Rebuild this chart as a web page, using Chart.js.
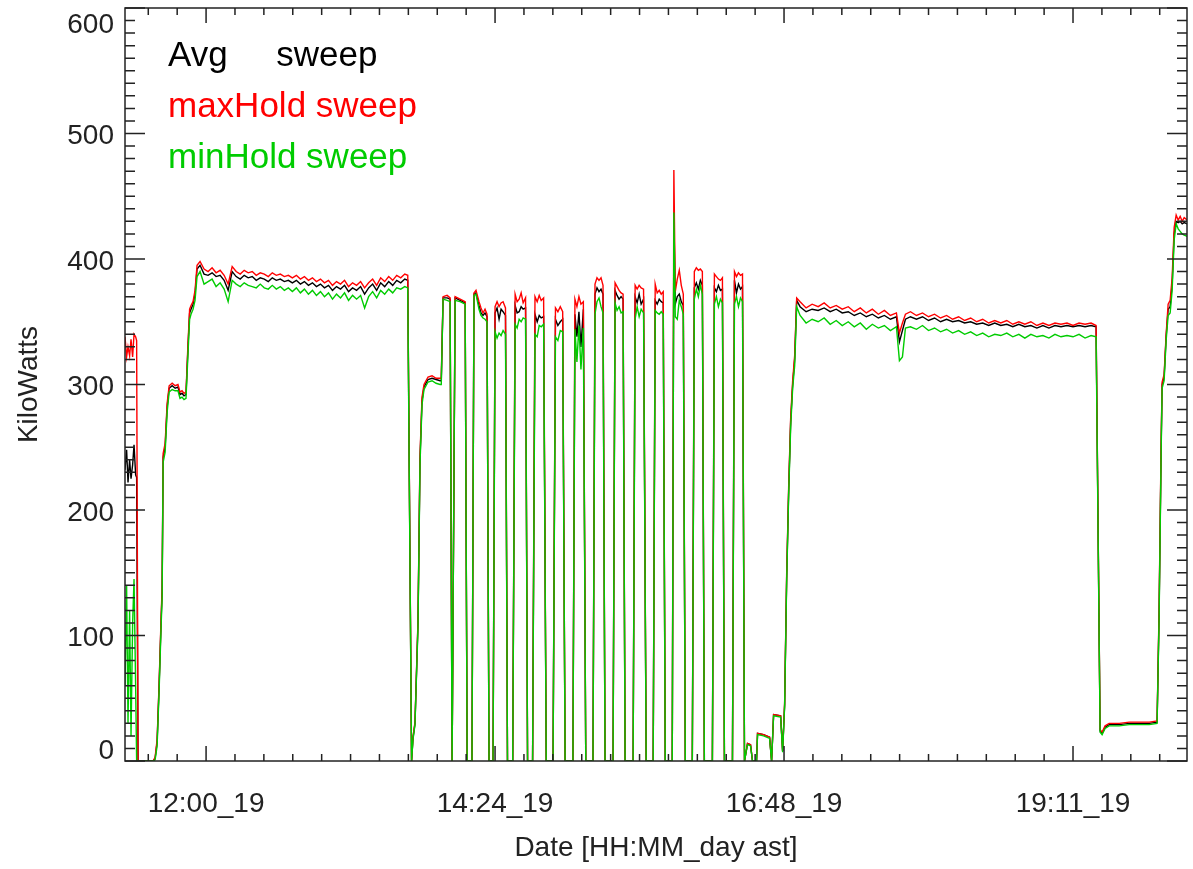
<!DOCTYPE html>
<html>
<head>
<meta charset="utf-8">
<title>KiloWatts sweep</title>
<script src="https://cdn.jsdelivr.net/npm/chart.js@4.4.0/dist/chart.umd.min.js"></script>
<style>
  html, body { margin: 0; padding: 0; background: #fff; }
  canvas { display: block; }
</style>
</head>
<body>
<canvas id="kw" width="1193" height="869"></canvas>
<script>
// time in minutes after midnight of day 19 (ast)
const timeMin = [
  679.6, 680.4, 681.1, 681.9, 682.6, 683.4, 684.1, 684.9, 685.4, 686.1,
  693.6, 694.6, 695.6, 696.6, 697.6, 698.1, 698.6, 699.6, 700.6, 701.6, 703.1, 704.6,
  706.0, 707.0, 708.0, 709.0, 710.0, 711.0, 711.8, 712.5, 713.5, 714.5, 715.5,
  717, 719, 721, 723, 725, 727, 729, 731, 733, 735,
  737, 739, 741, 743, 745, 747, 749, 751, 753, 755,
  757, 759, 761, 763, 765, 767, 769, 771, 773, 775,
  777, 779, 781, 783, 785, 787, 789, 791, 793, 795,
  797, 799, 801, 803, 805, 807, 809, 811, 813, 815,
  817, 819, 820.5,
  822.4, 823.1, 824.1, 825.6, 826.6, 827.6, 828.6, 830.6, 832.6, 834.6, 836.6, 837.2,
  838.1, 840.1, 841.6, 842.6,
  844.1, 846.6, 849.1, 850.1, 852.5,
  853.5, 854.5, 856, 857, 858, 859, 860, 861, 863,
  864, 865, 866, 867, 868, 869.2, 870.2, 872.8,
  874, 875, 876, 877, 878, 879.2, 880.2, 882.7,
  883.9, 885, 886, 887, 888.2, 889.5, 892.9,
  894.1, 895.3, 896.5, 897.7, 898.9, 902.8,
  903.8, 904.8, 905.8, 906.8, 908, 909.2, 912.8,
  913.8, 914.8, 915.8, 916.8, 917.8, 918.8, 922.8,
  923.8, 924.8, 925.8, 926.8, 927.8, 928.8, 932.8,
  933.8, 934.8, 935.8, 936.8, 938, 939.3, 942.8,
  943.8, 944.8, 945.8, 946.8, 947.8, 948.8, 952.3,
  953.1, 953.8, 954.8, 955.8, 956.8, 957.8, 958.8, 962.3,
  963.3, 964.3, 965.3, 966.3, 967.3, 968.3, 972.3,
  973.3, 974.3, 975.3, 976.3, 977.3, 978.3, 982.3,
  983.3, 984.3, 985.3, 986.3, 987.3, 988.3,
  989.8, 991.3, 992.3, 994.3, 994.8, 997.8, 1000.8, 1001.8, 1002.8,
  1006.3, 1007.3, 1008.3, 1009.3, 1010.3, 1011.3, 1012.3, 1013.3, 1014.3,
  1016, 1019, 1022, 1025, 1028, 1031, 1034, 1037, 1040, 1043,
  1046, 1049, 1052, 1055, 1058, 1061, 1064, 1065.5, 1067, 1068.5,
  1071, 1074, 1077, 1080, 1083, 1086, 1089, 1092, 1095, 1098,
  1101, 1104, 1107, 1110, 1113, 1116, 1119, 1122, 1125, 1128,
  1131, 1134, 1137, 1140, 1143, 1146, 1149, 1152, 1155, 1158,
  1161, 1163.5,
  1165.5, 1166.5, 1168, 1170, 1175, 1180, 1185, 1190, 1193.9,
  1194.9, 1195.9, 1196.4, 1197.4, 1198.4, 1199.4, 1200.4, 1201.4,
  1202.4, 1203.4, 1204.4, 1205.4, 1206.4, 1207.4, 1208.9
];

const avgKW = [
  232, 248, 222, 240, 225, 236, 252, 228, 226, 0,
  0, 2, 15, 60, 112, 135, 242, 250, 282, 297, 299, 297,
  298, 292, 293, 291, 292, 330, 357, 360, 364, 372, 392,
  395, 388, 387, 389, 386, 387, 383, 375, 390, 386,
  384, 387, 385, 386, 383, 385, 384, 382, 385, 383,
  384, 382, 383, 381, 383, 380, 382, 379, 381, 378,
  380, 377, 379, 375, 378, 376, 379, 374, 377, 375,
  378, 372, 377, 380, 375, 381, 378, 382, 379, 383,
  381, 384, 383,
  0, 18, 30, 110, 240, 287, 298, 304, 305, 304, 303, 303,
  369, 369, 368, 0,
  369, 367, 365, 0, 0,
  372, 373, 363, 357, 355, 357, 354, 0, 0,
  357, 361, 352, 360, 358, 355, 0, 0,
  363, 357, 358, 362, 360, 361, 0, 0,
  356, 350, 355, 353, 354, 0, 0,
  352, 347, 350, 352, 0, 0,
  356, 338, 358, 330, 360, 0, 0,
  372, 377, 374, 376, 372, 0, 0,
  375, 371, 368, 370, 368, 0, 0,
  370, 365, 372, 364, 368, 0, 0,
  367, 364, 368, 366, 365, 0, 0,
  437, 364, 370, 372, 366, 363, 0, 0,
  377, 381, 376, 383, 379, 0, 0,
  377, 374, 379, 375, 376, 0, 0,
  383, 373, 380, 376, 378, 0,
  14, 13, 0, 0, 22, 21, 19, 0, 37,
  36, 8, 45, 145, 215, 270, 300, 320, 367,
  362, 358, 360, 359, 361, 358, 360, 357, 358, 355,
  357, 354, 356, 353, 355, 352, 354, 334, 343, 352,
  354, 352, 354, 351, 353, 350, 352, 350, 351, 349,
  350, 348, 349, 347, 349, 347, 348, 346, 348, 346,
  347, 345, 347, 345, 347, 346, 347, 346, 347, 346,
  347, 346,
  24, 22, 27, 29, 29, 30, 30, 30, 31,
  118, 248, 300, 306, 338, 360, 362, 380,
  420, 430, 429, 430, 428, 429, 428
];

const maxKW = [
  338, 322, 330, 323, 336, 322, 340, 338, 335, 0,
  0, 3, 17, 62, 115, 138, 245, 253, 285, 299, 301, 299,
  300, 294, 295, 293, 294, 333, 360, 363, 366, 375, 395,
  398, 392, 390, 393, 389, 391, 387, 380, 394, 390,
  388, 391, 389, 390, 387, 389, 388, 386, 389, 387,
  388, 386, 387, 385, 387, 384, 386, 383, 385, 382,
  384, 381, 383, 379, 382, 380, 383, 378, 381, 379,
  382, 377, 381, 384, 379, 385, 382, 386, 383, 387,
  385, 388, 387,
  0, 19, 31, 112, 243, 290, 300, 306, 307, 305, 305, 305,
  370, 371, 369, 0,
  370, 368, 366, 0, 0,
  373, 375, 366, 361, 357, 360, 356, 0, 0,
  362, 366, 362, 365, 366, 361, 0, 0,
  372, 366, 368, 373, 365, 369, 0, 0,
  370, 366, 371, 367, 369, 0, 0,
  361, 358, 362, 358, 0, 0,
  368, 362, 370, 364, 366, 0, 0,
  380, 385, 383, 385, 379, 0, 0,
  381, 378, 375, 373, 372, 0, 0,
  379, 376, 379, 377, 376, 0, 0,
  380, 373, 375, 372, 374, 0, 0,
  471, 374, 384, 391, 379, 372, 0, 0,
  390, 393, 391, 392, 390, 0, 0,
  388, 386, 384, 383, 385, 0, 0,
  390, 386, 389, 387, 388, 0,
  14, 13, 0, 0, 22, 21, 19, 0, 37,
  36, 8, 46, 148, 218, 273, 303, 323, 369,
  366, 361, 364, 362, 365, 361, 363, 360, 362, 358,
  361, 357, 360, 356, 359, 355, 357, 341, 349, 356,
  358, 355, 357, 354, 356, 353, 355, 352, 354, 351,
  353, 350, 352, 349, 351, 349, 351, 348, 350, 348,
  350, 347, 349, 347, 349, 348, 349, 347, 349, 348,
  349, 347,
  25, 23, 28, 30, 30, 31, 31, 31, 32,
  122, 252, 302, 308, 340, 364, 367, 385,
  425, 435, 431, 434, 430, 433, 431
];

const minKW = [
  60, 140, 30, 120, 20, 110, 145, 60, 0, 0,
  0, 1, 12, 56, 108, 130, 238, 246, 278, 294, 296, 295,
  295, 289, 290, 288, 289, 325, 352, 356, 360, 367, 386,
  390, 380, 382, 384, 378, 381, 376, 366, 383, 380,
  378, 381, 379, 378, 377, 380, 377, 376, 379, 376,
  378, 375, 377, 374, 377, 373, 376, 372, 375, 371,
  374, 370, 373, 368, 372, 369, 373, 367, 371, 368,
  371, 361, 370, 374, 369, 375, 372, 376, 373, 377,
  376, 378, 377,
  0, 17, 29, 107, 236, 284, 296, 302, 303, 301, 300, 300,
  368, 367, 366, 0,
  367, 366, 364, 0, 0,
  371, 372, 360, 355, 353, 352, 350, 0, 0,
  342, 337, 341, 339, 343, 340, 0, 0,
  348, 345, 352, 350, 353, 352, 0, 0,
  340, 338, 347, 346, 348, 0, 0,
  338, 335, 343, 342, 0, 0,
  344, 318, 347, 312, 345, 0, 0,
  356, 366, 369, 362, 357, 0, 0,
  365, 359, 362, 357, 358, 0, 0,
  352, 362, 354, 360, 357, 0, 0,
  359, 357, 356, 358, 356, 0, 0,
  437, 354, 352, 367, 362, 356, 0, 0,
  368, 376, 370, 379, 372, 0, 0,
  364, 370, 362, 368, 365, 0, 0,
  364, 370, 362, 369, 366, 0,
  13, 12, 0, 0, 21, 20, 18, 0, 36,
  35, 7, 44, 142, 212, 266, 297, 315, 362,
  355, 349, 352, 350, 353, 348, 351, 347, 350, 346,
  349, 344, 348, 345, 347, 343, 346, 319, 322, 345,
  346, 344, 347, 343, 345, 342, 344, 341, 343, 340,
  342, 339, 341, 338, 340, 339, 341, 338, 340, 337,
  340, 338, 339, 337, 340, 338, 339, 338, 340, 337,
  339, 338,
  23, 21, 26, 28, 28, 29, 29, 29, 30,
  114, 244, 297, 303, 335, 355, 357, 375,
  415, 428, 424, 422, 420, 419, 418
];

const seriesLabels = ['Avg     sweep', 'maxHold sweep', 'minHold sweep'];
const seriesColors = ['#000000', '#ff0000', '#00cc00'];

const xTickValues = [720, 864, 1008, 1152];
const xTickLabels = ['12:00_19', '14:24_19', '16:48_19', '19:11_19'];
const yTickValues = [0, 100, 200, 300, 400, 500, 600];

if (new Set([timeMin.length, avgKW.length, maxKW.length, minKW.length]).size !== 1) {
  console.error('series length mismatch', timeMin.length, avgKW.length, maxKW.length, minKW.length);
}

const FONT = '"Liberation Sans", Arial, Helvetica, sans-serif';
Chart.defaults.font.family = FONT;
Chart.defaults.color = '#222';

const toPoints = vals => timeMin.map((t, i) => ({ x: t, y: vals[i] }));

// IDL-like box: inward ticks on all four sides, y labels kept inside the axis span, text legend
const idlFrame = {
  id: 'idlFrame',
  afterDraw(chart) {
    const { ctx, chartArea: a, scales: { x, y } } = chart;
    ctx.save();
    ctx.strokeStyle = '#222';
    ctx.lineWidth = 1.5;
    ctx.strokeRect(a.left, a.top, a.right - a.left, a.bottom - a.top);

    ctx.beginPath();
    for (let v = y.min; v <= y.max; v += 10) {
      const py = y.getPixelForValue(v);
      const len = v % 100 === 0 ? 20 : 10;
      ctx.moveTo(a.left, py); ctx.lineTo(a.left + len, py);
      ctx.moveTo(a.right, py); ctx.lineTo(a.right - len, py);
    }
    const step = (xTickValues[1] - xTickValues[0]) / 10;
    const k0 = Math.ceil((x.min - xTickValues[0]) / step);
    const k1 = Math.floor((x.max - xTickValues[0]) / step);
    for (let k = k0; k <= k1; k++) {
      const px = x.getPixelForValue(xTickValues[0] + k * step);
      const len = k % 10 === 0 ? 15 : 7;
      ctx.moveTo(px, a.bottom); ctx.lineTo(px, a.bottom - len);
      ctx.moveTo(px, a.top); ctx.lineTo(px, a.top + len);
    }
    ctx.stroke();

    ctx.fillStyle = '#222';
    ctx.font = '28px ' + FONT;
    ctx.textAlign = 'right';
    ctx.textBaseline = 'middle';
    yTickValues.forEach(v => {
      let py = y.getPixelForValue(v) + 3;
      py = Math.min(Math.max(py, a.top + 17), a.bottom - 10);
      ctx.fillText(String(v), a.left - 11, py);
    });

    ctx.textAlign = 'left';
    ctx.textBaseline = 'alphabetic';
    ctx.font = '35px ' + FONT;
    seriesLabels.forEach((label, i) => {
      ctx.fillStyle = seriesColors[i];
      ctx.fillText(label, a.left + 43, a.top + 58 + i * 51);
    });
    ctx.restore();
  }
};

const lineSet = (i, vals, order) => ({
  label: seriesLabels[i],
  data: toPoints(vals),
  borderColor: seriesColors[i],
  backgroundColor: seriesColors[i],
  borderWidth: 1.4,
  pointRadius: 0,
  tension: 0,
  fill: false,
  order: order
});

new Chart(document.getElementById('kw'), {
  type: 'line',
  data: {
    datasets: [
      lineSet(0, avgKW, 2),
      lineSet(1, maxKW, 1),
      lineSet(2, minKW, 0)
    ]
  },
  options: {
    responsive: false,
    animation: false,
    devicePixelRatio: 1,
    layout: { padding: { left: 0, right: 6, top: 8, bottom: 0 } },
    plugins: { legend: { display: false }, tooltip: { enabled: false } },
    scales: {
      x: {
        type: 'linear',
        min: 679.6,
        max: 1208.8,
        afterBuildTicks: s => { s.ticks = xTickValues.map(v => ({ value: v })); },
        afterFit: s => { s.height = 108; },
        ticks: {
          autoSkip: false,
          maxRotation: 0,
          padding: 26,
          font: { size: 28 },
          color: '#222',
          callback: (v, i) => xTickLabels[i]
        },
        grid: { display: false, drawTicks: false },
        border: { display: false },
        title: {
          display: true,
          text: 'Date [HH:MM_day ast]',
          font: { size: 28 },
          color: '#222',
          padding: { top: 0, bottom: 4 }
        }
      },
      y: {
        type: 'linear',
        min: 0,
        max: 600,
        afterFit: s => { s.width = 125; },
        ticks: { display: false },
        grid: { display: false, drawTicks: false },
        border: { display: false },
        title: {
          display: true,
          text: 'KiloWatts',
          font: { size: 28 },
          color: '#222',
          padding: { top: 12, bottom: 0 }
        }
      }
    }
  },
  plugins: [idlFrame]
});
</script>
</body>
</html>
